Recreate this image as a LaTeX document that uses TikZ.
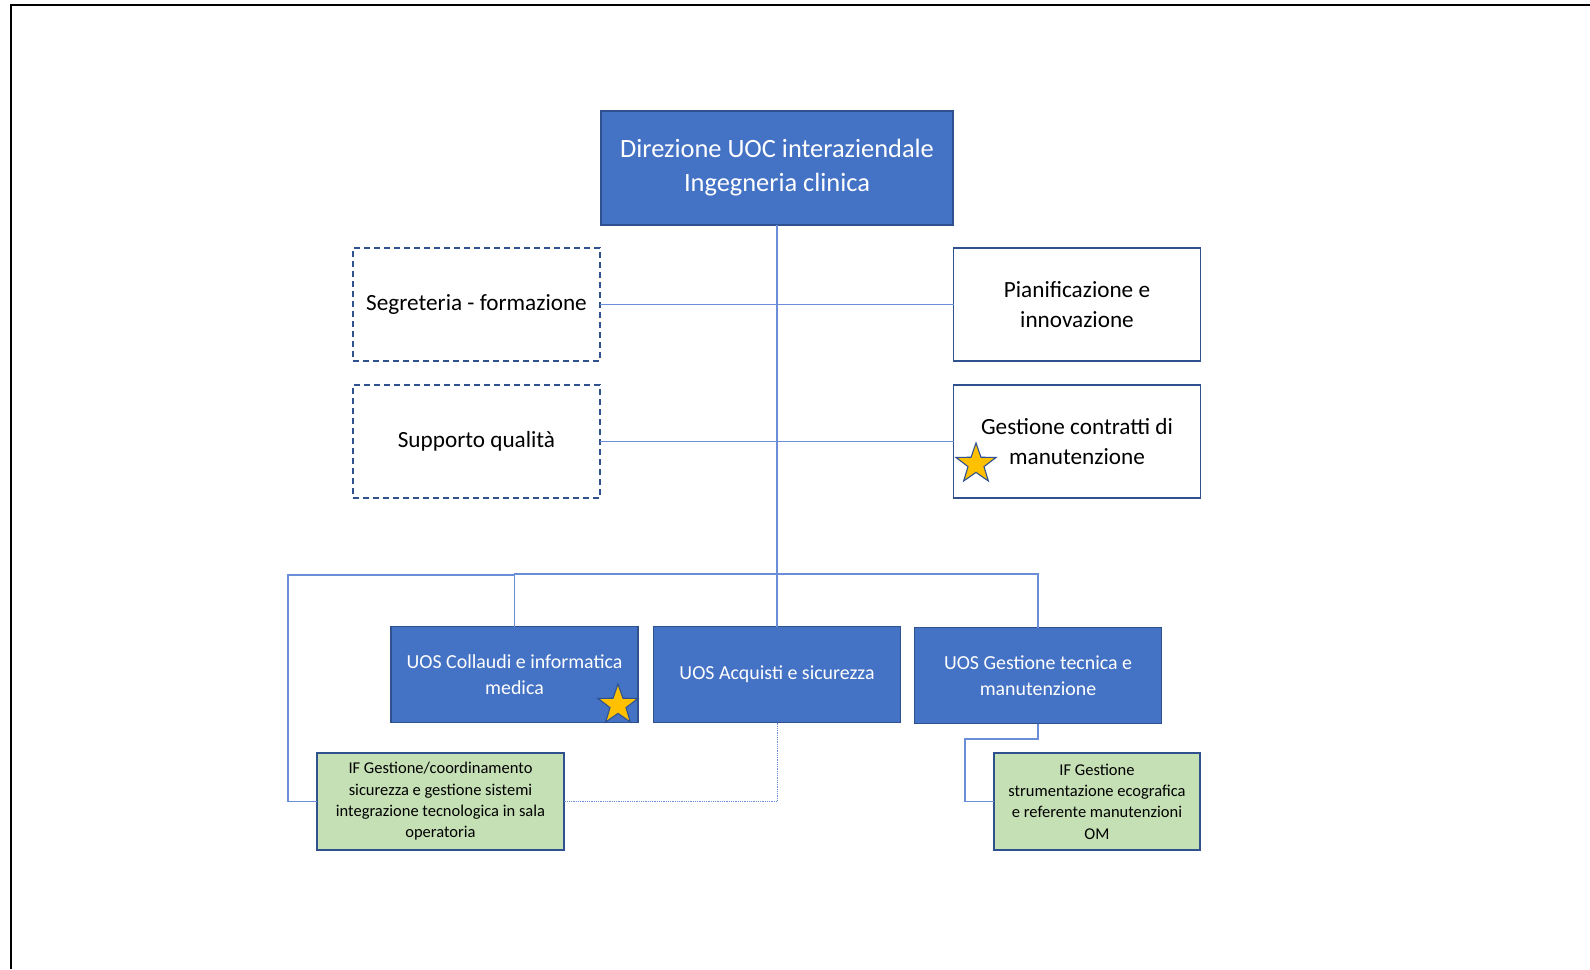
\documentclass[tikz,border=0pt]{standalone}
\usepackage{fontspec}
\setmainfont{Carlito}
\usetikzlibrary{shapes.geometric}
\definecolor{blueF}{HTML}{4472C4}
\definecolor{blueD}{HTML}{2F528F}
\definecolor{greenF}{HTML}{C5E0B4}
\definecolor{lineC}{HTML}{6A8FD8}
\definecolor{starF}{HTML}{FFC000}
\begin{document}
\begin{tikzpicture}[x=1pt,y=-1pt,
  box/.style={rectangle,inner sep=0pt,outer sep=0pt,align=center,line width=1.6pt,draw=blueD},
  topbox/.style={box,fill=blueF,text=white,minimum width=352pt,minimum height=114pt,font=\fontsize{26.4}{34}\selectfont},
  dbox/.style={box,dashed,line width=1.8pt,dash pattern=on 6pt off 4pt,fill=white,minimum width=247pt,minimum height=113pt,font=\fontsize{23.2}{30}\selectfont},
  wbox/.style={box,fill=white,minimum width=247pt,minimum height=113pt,font=\fontsize{23.2}{30}\selectfont},
  uos/.style={box,fill=blueF,text=white,minimum width=247pt,minimum height=96pt,font=\fontsize{19.9}{26}\selectfont},
  ifbox/.style={box,fill=greenF,minimum height=97pt,font=\fontsize{16.5}{21.3}\selectfont},
  conn/.style={draw=lineC,line width=1.3pt},
  starmark/.style={star,star points=5,star point ratio=2.5,minimum size=42pt,inner sep=0pt,fill=starF,draw=blueD,line width=1.1pt}
]
\useasboundingbox (0,0) rectangle (1590,969);
\fill[white] (0,0) rectangle (1590,969);
\draw[line width=2.5pt,black] (11,969) -- (11,5) -- (1590,5);

\node[topbox] (top) at (777,168) {Direzione UOC interaziendale\\Ingegneria clinica};
\node[dbox] (seg) at (476.5,304.5) {Segreteria - formazione};
\node[dbox] (sup) at (476.5,441.5) {Supporto qualità};
\node[wbox] (pia) at (1077,304.5) {Pianificazione e\\innovazione};
\node[wbox] (gcm) at (1077,441.5) {Gestione contratti di\\manutenzione};

\node[uos] (col) at (514.5,674.5) {UOS Collaudi e informatica\\medica};
\node[uos] (acq) at (777,674.5) {UOS Acquisti e sicurezza};
\node[uos] (gtm) at (1038,675.5) {UOS Gestione tecnica e\\manutenzione};

\node[ifbox,minimum width=247pt] (ifl) at (440.5,801.5) {IF Gestione/coordinamento\\sicurezza e gestione sistemi\\integrazione tecnologica in sala\\operatoria};
\node[ifbox,minimum width=206pt] (ifr) at (1097,801.5) {IF Gestione\\strumentazione ecografica\\e referente manutenzioni\\OM};

\coordinate (bus) at (777,574);
\coordinate (loop) at (288,575);
\coordinate (rk) at (965,739);

\draw[conn] (top.south) -- (bus);
\draw[conn] (seg.east) -- (pia.west);
\draw[conn] (sup.east) -- (gcm.west);
\draw[conn] (col.north) |- (bus) -| (gtm.north);
\draw[conn] (bus) -- (acq.north);
\draw[conn] (ifl.west) -| (loop) -| (col.north);
\draw[draw=lineC,line width=0.8pt,densely dotted] (acq.south) |- (ifl.east);
\draw[conn] (gtm.south) |- (rk) |- (ifr.west);

\node[starmark] (s1) at (618,705) {};
\node[starmark] (s2) at (976,464) {};
\end{tikzpicture}
\end{document}
